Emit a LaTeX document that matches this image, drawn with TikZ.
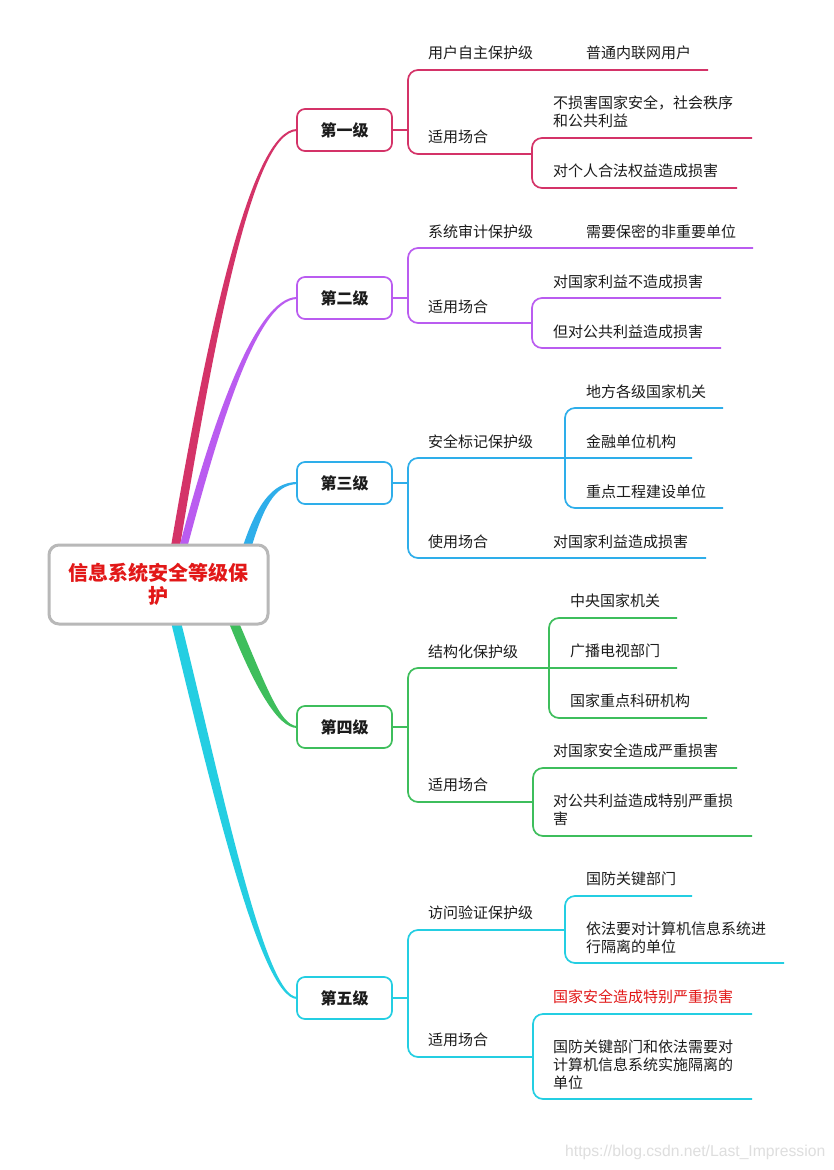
\documentclass[tikz,border=0pt]{standalone}
\usepackage{fontspec}
\setmainfont{Noto Sans CJK SC}
\newfontfamily\wmfont{Liberation Sans}
\usetikzlibrary{calc,backgrounds}
\definecolor{c1}{RGB}{212,51,104}
\definecolor{c2}{RGB}{186,92,240}
\definecolor{c3}{RGB}{46,174,234}
\definecolor{c4}{RGB}{62,190,92}
\definecolor{c5}{RGB}{36,206,226}
\definecolor{redt}{RGB}{226,24,24}
\definecolor{txtc}{RGB}{28,28,28}
\definecolor{rootb}{RGB}{184,184,184}
\definecolor{wmc}{RGB}{222,222,222}
\begin{document}
\begin{tikzpicture}[x=1pt,y=-1pt,
  lvl/.style={draw, rounded corners=8pt, line width=1.7pt, minimum width=95pt, minimum height=42pt, fill=white, inner sep=0pt, text=txtc, font=\bfseries\fontsize{16}{18}\selectfont},
  txt/.style={anchor=west, inner sep=0pt, align=left, text=txtc, font=\fontsize{15}{18}\selectfont},
  ln/.style={line width=1.7pt, rounded corners=10pt}]
\useasboundingbox (0,0) rectangle (834,1170);

% root
\node[draw=rootb, line width=3pt, rounded corners=10pt, fill=white, minimum width=219pt, minimum height=79pt, inner sep=0pt, align=center, text=redt, font=\bfseries\fontsize{20}{23}\selectfont] (r) at (158.5,584.5) {信息系统安全等级保\\护};

% level boxes
\node[lvl, draw=c1] (l1) at (344.5,130) {第一级};
\node[lvl, draw=c2] (l2) at (344.5,298) {第二级};
\node[lvl, draw=c3] (l3) at (344.5,483) {第三级};
\node[lvl, draw=c4] (l4) at (344.5,727) {第四级};
\node[lvl, draw=c5] (l5) at (344.5,998) {第五级};

% main branches
\begin{scope}[on background layer]
\fill[white] (0,0) rectangle (834,1170);
\fill[c1] (170,552) .. controls (206,340) and (250,129) .. ($(l1.west)+(1,-1)$) -- ($(l1.west)+(1,1)$) .. controls (252,131) and (214,342) .. (179,552) -- cycle;
\fill[c2] (178,552) .. controls (211,425) and (255,297) .. ($(l2.west)+(1,-1)$) -- ($(l2.west)+(1,1)$) .. controls (257,299) and (219,428) .. (186,552) -- cycle;
\fill[c3] (241,552) .. controls (256,505) and (272,482) .. ($(l3.west)+(1,-1)$) -- ($(l3.west)+(1,1)$) .. controls (274,485) and (263,508) .. (250,552) -- cycle;
\fill[c4] (227,618) .. controls (255,689) and (278,728) .. ($(l4.west)+(1,1)$) -- ($(l4.west)+(1,-1)$) .. controls (280,726) and (265,683) .. (237,618) -- cycle;
\fill[c5] (170,618) .. controls (210,782) and (260,999) .. ($(l5.west)+(1,1)$) -- ($(l5.west)+(1,-1)$) .. controls (264,997) and (220,778) .. (180,618) -- cycle;
\end{scope}

% ---------- level 1
\node[txt] (a11) at (428,53) {用户自主保护级};
\node[txt] (a111) at (586,53) {普通内联网用户};
\node[txt] (a12) at (428,137) {适用场合};
\node[txt] (a121) at (553,112) {不损害国家安全，社会秩序\\和公共利益};
\node[txt] (a122) at (553,171) {对个人合法权益造成损害};
\draw[c1, line width=1.7pt] (l1.east) -- (408,130);
\draw[c1, ln] (708,70) -- (408,70) -- (408,154) -- (532,154);
\draw[c1, ln] (752,138) -- (532,138) -- (532,188) -- (737,188);

% ---------- level 2
\node[txt] (a21) at (428,232) {系统审计保护级};
\node[txt] (a211) at (586,232) {需要保密的非重要单位};
\node[txt] (a22) at (428,307) {适用场合};
\node[txt] (a221) at (553,282) {对国家利益不造成损害};
\node[txt] (a222) at (553,332) {但对公共利益造成损害};
\draw[c2, line width=1.7pt] (l2.east) -- (408,298);
\draw[c2, ln] (753,248) -- (408,248) -- (408,323) -- (532,323);
\draw[c2, ln] (721,298) -- (532,298) -- (532,348) -- (721,348);

% ---------- level 3
\node[txt] (a31) at (428,442) {安全标记保护级};
\node[txt] (a311) at (586,392) {地方各级国家机关};
\node[txt] (a312) at (586,442) {金融单位机构};
\node[txt] (a313) at (586,492) {重点工程建设单位};
\node[txt] (a32) at (428,542) {使用场合};
\node[txt] (a321) at (553,542) {对国家利益造成损害};
\draw[c3, line width=1.7pt] (l3.east) -- (408,483);
\draw[c3, ln] (692,458) -- (408,458) -- (408,558) -- (706,558);
\draw[c3, ln] (723,408) -- (565,408) -- (565,508) -- (723,508);

% ---------- level 4
\node[txt] (a41) at (428,652) {结构化保护级};
\node[txt] (a411) at (570,601) {中央国家机关};
\node[txt] (a412) at (570,651) {广播电视部门};
\node[txt] (a413) at (570,701) {国家重点科研机构};
\node[txt] (a42) at (428,785) {适用场合};
\node[txt] (a421) at (553,751) {对国家安全造成严重损害};
\node[txt] (a422) at (553,809.5) {对公共利益造成特别严重损\\害};
\draw[c4, line width=1.7pt] (l4.east) -- (408,727);
\draw[c4, ln] (677,668) -- (408,668) -- (408,802) -- (533,802);
\draw[c4, ln] (677,618) -- (549,618) -- (549,718) -- (707,718);
\draw[c4, ln] (737,768) -- (533,768) -- (533,836) -- (752,836);

% ---------- level 5
\node[txt] (a51) at (428,913) {访问验证保护级};
\node[txt] (a511) at (586,879) {国防关键部门};
\node[txt] (a512) at (586,938) {依法要对计算机信息系统进\\行隔离的单位};
\node[txt] (a52) at (428,1040) {适用场合};
\node[txt, text=redt] (a521) at (553,997) {国家安全造成特别严重损害};
\node[txt] (a522) at (553,1065) {国防关键部门和依法需要对\\计算机信息系统实施隔离的\\单位};
\draw[c5, line width=1.7pt] (l5.east) -- (408,998);
\draw[c5, ln] (565,930) -- (408,930) -- (408,1057) -- (533,1057);
\draw[c5, ln] (692,896) -- (565,896) -- (565,963) -- (784,963);
\draw[c5, ln] (752,1014) -- (533,1014) -- (533,1099) -- (752,1099);

% watermark
\node[anchor=west, inner sep=0pt, text=wmc, font=\wmfont\fontsize{15.7}{18}\selectfont] (wm) at (565,1152) {https://blog.csdn.net/Last\_Impression};
\end{tikzpicture}
\end{document}
